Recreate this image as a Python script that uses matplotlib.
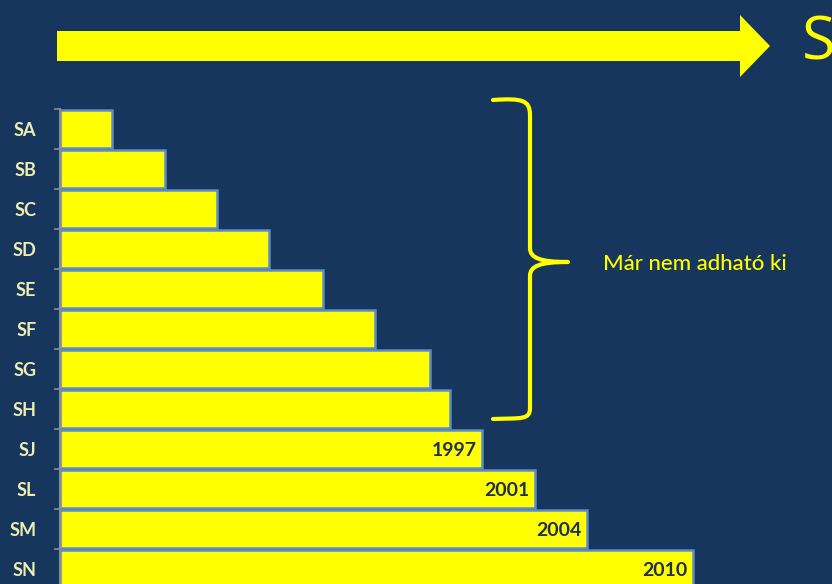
import matplotlib.pyplot as plt
import numpy as np
from matplotlib.patches import FancyArrow, PathPatch
from matplotlib.path import Path

plt.rcParams['font.family'] = ['Lato', 'DejaVu Sans']

# data
categories = ['SA', 'SB', 'SC', 'SD', 'SE', 'SF', 'SG', 'SH', 'SJ', 'SL', 'SM', 'SN']
values = [52, 105, 157, 209, 263, 315, 370, 390, 422, 475, 527, 633]
year_labels = ['', '', '', '', '', '', '', '', '1997', '2001', '2004', '2010']
brace_text = 'Már nem adható ki'
arrow_text = 'S'

bg = '#17365D'
yellow = '#FFFF00'
label_col = '#EEEEB0'

W, H = 832, 584
fig = plt.figure(figsize=(W / 100, H / 100), dpi=100)
fig.patch.set_facecolor(bg)

# main bar axes (pixels: left 60, top 109, 40px per row, bottom cut off)
ax = fig.add_axes([60 / W, (H - 589) / H, (W - 60) / W, 480 / H])
ax.set_facecolor(bg)
y = np.arange(len(categories))
ax.barh(y, values, height=0.93, color=yellow, edgecolor='#5B8CC8', linewidth=1.8)
ax.set_xlim(0, W - 60)
ax.set_ylim(len(categories) - 0.5, -0.5)

for i, (v, lab) in enumerate(zip(values, year_labels)):
    if lab:
        ax.annotate(lab, xy=(v, i), xytext=(-4, -1), textcoords='offset points',
                    ha='right', va='center', fontsize=14, fontweight='bold',
                    color='#1F3050')

ax.set_yticks(np.arange(len(categories) + 1) - 0.5)
ax.set_yticklabels([])
ax.set_yticks(y, minor=True)
ax.set_yticklabels(categories, minor=True, fontsize=13, fontweight='bold', color=label_col)
ax.tick_params(axis='y', which='major', length=4, width=1.2, color='#8C8C8C', direction='out')
ax.tick_params(axis='y', which='minor', length=0, pad=17)
ax.xaxis.set_visible(False)
for s in ['top', 'right', 'bottom']:
    ax.spines[s].set_visible(False)
ax.spines['left'].set_color('#8C8C8C')
ax.spines['left'].set_linewidth(1.5)

# overlay in pixel coordinates for arrow and brace
ov = fig.add_axes([0, 0, 1, 1])
ov.set_xlim(0, W)
ov.set_ylim(H, 0)
ov.axis('off')
ov.patch.set_alpha(0)

ov.add_patch(FancyArrow(57, 46, 683, 0, width=30, head_width=62, head_length=30,
                        length_includes_head=False, color=yellow, linewidth=0))
# the big "S" runs off the right edge, as in the original slide
ov.text(802, 44, arrow_text, fontsize=44, color=yellow, va='center', ha='left',
        family=['Open Sans', 'DejaVu Sans'])

verts = [(493, 100), (522, 98), (530, 100), (530, 115),
         (530, 248),
         (530, 258), (540, 262), (568, 262),
         (540, 262), (530, 266), (530, 276),
         (530, 408),
         (530, 420), (522, 418), (493, 419)]
codes = [Path.MOVETO, Path.CURVE4, Path.CURVE4, Path.CURVE4,
         Path.LINETO,
         Path.CURVE4, Path.CURVE4, Path.CURVE4,
         Path.CURVE4, Path.CURVE4, Path.CURVE4,
         Path.LINETO,
         Path.CURVE4, Path.CURVE4, Path.CURVE4]
ov.add_patch(PathPatch(Path(verts, codes), facecolor='none', edgecolor=yellow,
                       linewidth=3, capstyle='round', joinstyle='round'))
ov.text(603, 264, brace_text, fontsize=16, color=yellow, va='center', ha='left',
        fontweight='medium')

fig.savefig('out.png', dpi=100, facecolor=bg)
